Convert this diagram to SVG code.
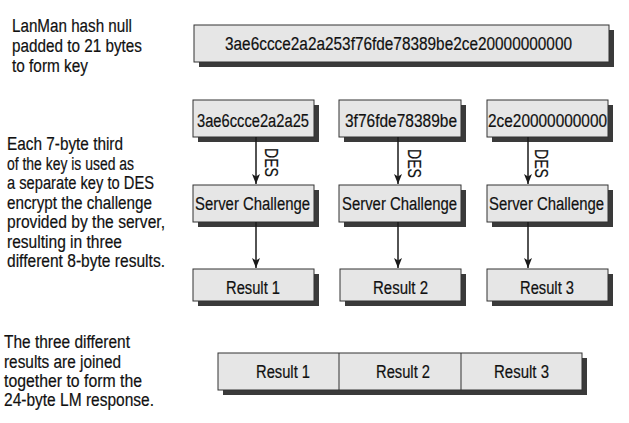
<svg xmlns="http://www.w3.org/2000/svg" width="629" height="423" viewBox="0 0 629 423">
<defs>
<style>
text{font-family:"Liberation Sans Narrow","Liberation Sans",Arial,sans-serif;fill:#111;font-size:18px;stroke:#111;stroke-width:0.2}
.box{fill:#e6e6e6;stroke:#333;stroke-width:1}
.sh{fill:#3a3a3a}
.conn line{stroke:#1a1a1a;stroke-width:1.5;marker-end:url(#ah)}
.div{stroke:#333;stroke-width:1}
</style>
<marker id="ah" markerUnits="userSpaceOnUse" markerWidth="10" markerHeight="8" refX="10" refY="4" orient="auto">
<path d="M0,0 L10,4 L0,8 L2.5,4 z" fill="#1a1a1a"/>
</marker>
</defs>
<rect width="629" height="423" fill="#fff"/>

<g id="note1">
<text x="12" y="32" textLength="120" lengthAdjust="spacingAndGlyphs">LanMan hash null</text>
<text x="12" y="52" textLength="130" lengthAdjust="spacingAndGlyphs">padded to 21 bytes</text>
<text x="12" y="72" textLength="76" lengthAdjust="spacingAndGlyphs">to form key</text>
</g>
<g id="note2">
<text x="7" y="150" textLength="116" lengthAdjust="spacingAndGlyphs">Each 7-byte third</text>
<text x="7" y="169.5" textLength="127" lengthAdjust="spacingAndGlyphs">of the key is used as</text>
<text x="7" y="189" textLength="147" lengthAdjust="spacingAndGlyphs">a separate key to DES</text>
<text x="7" y="208.5" textLength="145" lengthAdjust="spacingAndGlyphs">encrypt the challenge</text>
<text x="7" y="228" textLength="158" lengthAdjust="spacingAndGlyphs">provided by the server,</text>
<text x="7" y="247.5" textLength="115" lengthAdjust="spacingAndGlyphs">resulting in three</text>
<text x="7" y="267" textLength="158" lengthAdjust="spacingAndGlyphs">different 8-byte results.</text>
</g>
<g id="note3">
<text x="4" y="348" textLength="126" lengthAdjust="spacingAndGlyphs">The three different</text>
<text x="4" y="367.5" textLength="117" lengthAdjust="spacingAndGlyphs">results are joined</text>
<text x="4" y="386.5" textLength="138" lengthAdjust="spacingAndGlyphs">together to form the</text>
<text x="4" y="405.5" textLength="150" lengthAdjust="spacingAndGlyphs">24-byte LM response.</text>
</g>

<g id="hash">
<rect class="sh" x="199" y="30" width="415" height="37"/>
<rect class="box" x="194" y="25" width="415" height="37"/>
<text x="225" y="50" textLength="347" lengthAdjust="spacingAndGlyphs">3ae6ccce2a2a253f76fde78389be2ce20000000000</text>
</g>

<g id="key1">
<rect class="sh" x="198" y="105" width="121" height="37"/>
<rect class="box" x="193" y="100" width="121" height="37"/>
<text x="197" y="127" textLength="112" lengthAdjust="spacingAndGlyphs">3ae6ccce2a2a25</text>
</g>
<g id="key2">
<rect class="sh" x="344" y="105" width="122" height="37"/>
<rect class="box" x="339" y="100" width="122" height="37"/>
<text x="345" y="127" textLength="112" lengthAdjust="spacingAndGlyphs">3f76fde78389be</text>
</g>
<g id="key3">
<rect class="sh" x="492" y="105" width="121" height="37"/>
<rect class="box" x="487" y="100" width="121" height="37"/>
<text x="488" y="127" textLength="119" lengthAdjust="spacingAndGlyphs">2ce20000000000</text>
</g>

<g id="sc1">
<rect class="sh" x="198" y="190" width="121" height="37"/>
<rect class="box" x="193" y="185" width="121" height="37"/>
<text x="195" y="210" textLength="115" lengthAdjust="spacingAndGlyphs">Server Challenge</text>
</g>
<g id="sc2">
<rect class="sh" x="344" y="190" width="122" height="37"/>
<rect class="box" x="339" y="185" width="122" height="37"/>
<text x="342" y="210" textLength="115" lengthAdjust="spacingAndGlyphs">Server Challenge</text>
</g>
<g id="sc3">
<rect class="sh" x="492" y="190" width="121" height="37"/>
<rect class="box" x="487" y="185" width="121" height="37"/>
<text x="489" y="210" textLength="115" lengthAdjust="spacingAndGlyphs">Server Challenge</text>
</g>

<g id="r1">
<rect class="sh" x="198" y="274" width="121" height="32"/>
<rect class="box" x="193" y="269" width="121" height="32"/>
<text x="226" y="294" textLength="54" lengthAdjust="spacingAndGlyphs">Result 1</text>
</g>
<g id="r2">
<rect class="sh" x="345" y="274" width="121" height="32"/>
<rect class="box" x="340" y="269" width="121" height="32"/>
<text x="373" y="294" textLength="55" lengthAdjust="spacingAndGlyphs">Result 2</text>
</g>
<g id="r3">
<rect class="sh" x="492" y="274" width="121" height="32"/>
<rect class="box" x="487" y="269" width="121" height="32"/>
<text x="520" y="294" textLength="54" lengthAdjust="spacingAndGlyphs">Result 3</text>
</g>

<g id="response">
<rect class="sh" x="223" y="358" width="364" height="37"/>
<rect class="box" x="218" y="353" width="364" height="37"/>
<line class="div" x1="339" y1="353" x2="339" y2="390"/>
<line class="div" x1="461" y1="353" x2="461" y2="390"/>
<text x="256" y="378" textLength="54" lengthAdjust="spacingAndGlyphs">Result 1</text>
<text x="376" y="378" textLength="54" lengthAdjust="spacingAndGlyphs">Result 2</text>
<text x="494" y="378" textLength="55" lengthAdjust="spacingAndGlyphs">Result 3</text>
</g>

<g id="connectors" class="conn">
<line x1="256" y1="137" x2="256" y2="184"/>
<line x1="398" y1="137" x2="398" y2="184"/>
<line x1="528" y1="137" x2="528" y2="184"/>
<line x1="256" y1="222" x2="256" y2="268"/>
<line x1="398" y1="222" x2="398" y2="268"/>
<line x1="528" y1="222" x2="528" y2="268"/>
<text transform="translate(265,148) rotate(90)" textLength="29" lengthAdjust="spacingAndGlyphs">DES</text>
<text transform="translate(408,149) rotate(90)" textLength="29" lengthAdjust="spacingAndGlyphs">DES</text>
<text transform="translate(535,149) rotate(90)" textLength="29" lengthAdjust="spacingAndGlyphs">DES</text>
</g>
</svg>
